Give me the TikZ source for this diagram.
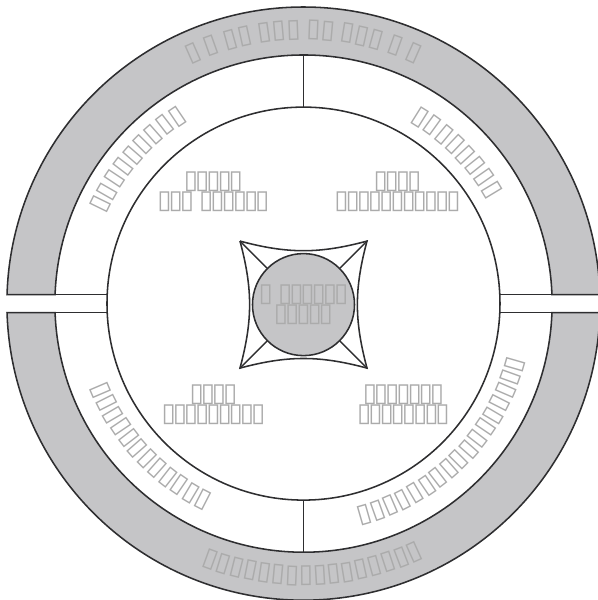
\documentclass[tikz,border=0pt]{standalone}
\usepackage{fontspec}
\newfontfamily\tofufont[LetterSpace=-12]{DejaVu Sans}
\usetikzlibrary{decorations.text}
\definecolor{band}{HTML}{C5C5C7}
\definecolor{edge}{HTML}{2E2E30}
\definecolor{tofu}{HTML}{ABABAB}
\tikzset{
  ring/.style={draw=edge, line width=1.1pt},
  lbl/.style={text=tofu, font=\tofufont\fontsize{18.5}{14.2}\selectfont, align=center, inner sep=0pt},
  arclbl/.style={decorate, decoration={text along path, text align=center, text color=tofu,
      text={|\tofufont\fontsize{18.5}{14.2}\selectfont|#1}}}
}
\begin{document}
\begin{tikzpicture}[x=0.025cm,y=0.025cm]
\useasboundingbox (-303.5,-296.4) rectangle (294.5,303.6);

% outer band, split in two halves
\filldraw[ring, fill=band] (-296.46,9) arc[start angle=178.26, end angle=1.74, radius=296.6]
  -- (248.44,9) arc[start angle=2.07, end angle=177.93, radius=248.6] -- cycle;
\filldraw[ring, fill=band] (-296.46,-9) arc[start angle=181.74, end angle=358.26, radius=296.6]
  -- (248.44,-9) arc[start angle=-2.07, end angle=-177.93, radius=248.6] -- cycle;

% inner ring
\draw[ring] (0,0) circle (196.5);
\draw[ring] (-248.44,9) -- (-196.29,9);
\draw[ring] (-248.44,-9) -- (-196.29,-9);
\draw[ring] (248.44,9) -- (196.29,9);
\draw[ring] (248.44,-9) -- (196.29,-9);
\draw[ring] (0,196.5) -- (0,248.6);
\draw[ring] (0,-196.5) -- (0,-248.6);

% texts on the rings
\path[arclbl={▯ ▯ ▯▯ ▯▯▯ ▯▯ ▯▯▯ ▯ ▯}] (116:267) arc[start angle=116, end angle=64, radius=267];
\path[arclbl={▯▯▯▯▯▯▯▯▯▯▯▯▯▯▯▯}] (248:279) arc[start angle=248, end angle=296, radius=279];
\path[arclbl={▯▯▯▯▯▯▯▯▯}] (155:219) arc[start angle=155, end angle=123, radius=219];
\path[arclbl={▯▯▯▯▯▯▯▯}] (60:213) arc[start angle=60, end angle=29, radius=213];
\path[arclbl={▯▯▯▯▯▯▯▯▯▯▯▯}] (201:227) arc[start angle=201, end angle=245, radius=227];
\path[arclbl={▯▯▯▯▯▯▯▯▯▯▯▯▯▯▯▯▯}] (284:227) arc[start angle=284, end angle=346, radius=227];

% quarter labels
\node[lbl] (ul) at (-90,112) {▯▯▯▯▯\\▯▯▯ ▯▯▯▯▯▯};
\node[lbl] (ur) at (94,112) {▯▯▯▯\\▯▯▯▯▯▯▯▯▯▯▯};
\node[lbl] (ll) at (-90,-101) {▯▯▯▯\\▯▯▯▯▯▯▯▯▯};
\node[lbl] (lr) at (100,-101) {▯▯▯▯▯▯▯\\▯▯▯▯▯▯▯▯};

% centre
\coordinate (c1) at (-63.5,62.5);
\coordinate (c2) at (63.5,62.5);
\coordinate (c3) at (63.5,-64.5);
\coordinate (c4) at (-63.5,-64.5);
\draw[ring] (c1) to[bend right=15] (c2) to[bend right=15] (c3)
  to[bend right=15] (c4) to[bend right=15] (c1);
\node[ring, lbl, circle, fill=band, minimum size=2.55cm] (hub) at (0,-1)
  {▯ ▯▯▯▯▯▯\\▯▯▯▯▯};
\draw[ring] (c1) -- (hub.north west);
\draw[ring] (c2) -- (hub.north east);
\draw[ring] (c3) -- (hub.south east);
\draw[ring] (c4) -- (hub.south west);
\end{tikzpicture}
\end{document}
